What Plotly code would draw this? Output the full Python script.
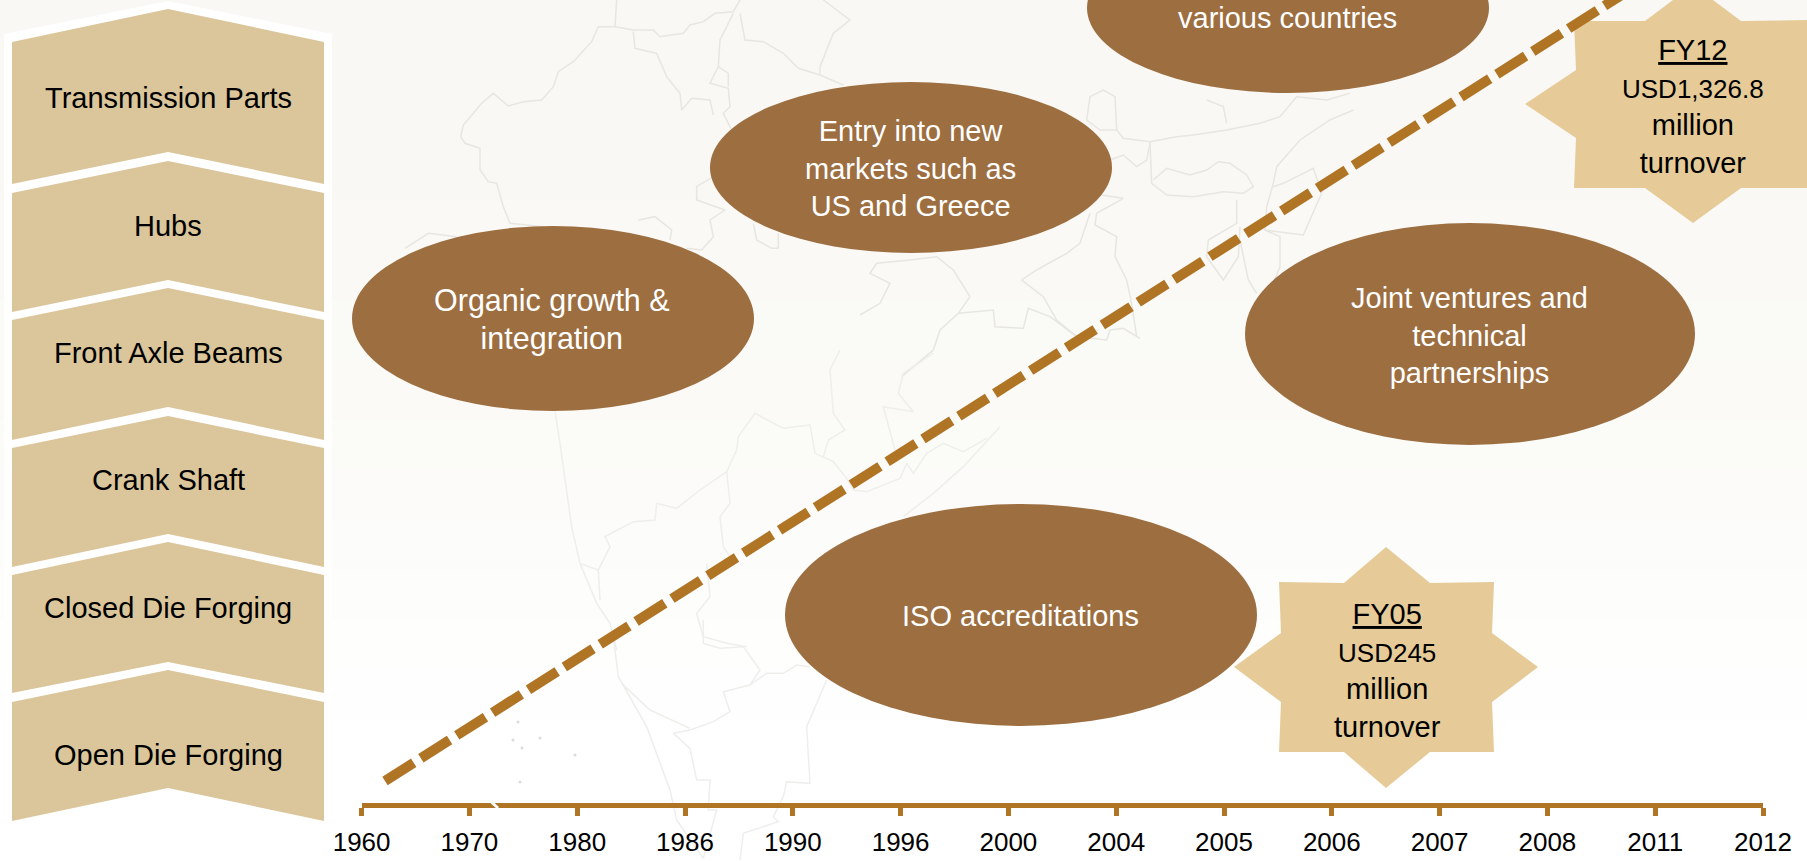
import plotly.graph_objects as go

YEARS = ["1960","1970","1980","1986","1990","1996","2000","2004","2005","2006","2007","2008","2011","2012"]
PRODUCTS = ["Transmission Parts","Hubs","Front Axle Beams","Crank Shaft","Closed Die Forging","Open Die Forging"]
PRODUCT_TEXT_Y = [98,226,353,480,608,755]
# chevron: top-left y, apex y, bottom-left y, notch y
CHEVRONS = [(42,9,184,152),(193,161,312,280),(320,288,440,407),(448,416,567,534),(575,542,693,662),(702,670,821,788)]
CHEV_L, CHEV_M, CHEV_R = 12, 168, 324

ELLIPSES = [
    ("<span style='font-size:30.5px'>Organic growth &</span><br><span style='font-size:30.5px'>integration</span>", 553, 318.5, 201, 92.5),
    ("Entry into new<br>markets such as<br>US and Greece", 911, 167.5, 201, 85.5),
    ("various countries", 1288, 8, 201, 85),
    ("Joint ventures and<br>technical<br>partnerships", 1470, 334, 225, 111),
    ("ISO accreditations", 1021, 615, 236, 111),
]
ELLIPSE_TEXT_Y = [319, 168, 18, 335, 616]

STAR_05_X = [1386,1430,1494,1492,1538,1492,1494,1430,1386,1344,1279,1281,1234,1281,1279,1344,1386]
STAR_05_Y = [547,583,582,633,667,702,752,752,788,752,752,702,667,633,582,583,547]
STAR_12_X = [1693,1741,1812,1810,1861,1810,1812,1741,1693,1645,1574,1576,1525,1576,1574,1645,1693]
STAR_12_Y = [-15,21,20,70,104,138,188,188,223,188,188,138,104,70,21,21,-15]
STAR_TEXT = [("<u>FY05</u><br><span style='font-size:26px'>USD245</span><br>million<br>turnover",1387,670),
             ("<u>FY12</u><br><span style='font-size:26px'>USD1,326.8</span><br>million<br>turnover",1693,106)]

GROWTH_X = [385, 1642]
GROWTH_Y = [781, -18]

# map outlines: (crop x, crop y, points at 3x crop scale)
MAP_UPPER = [
 (400,0,[(650,0),(645,80),(595,80),(575,125),(520,185),(475,215),(460,260),(425,300),(370,305),(325,318),(280,280),(245,310),(190,375),(182,410),(195,430),(240,445),(240,510),(265,545),(290,550),(310,620),(330,670),(430,680)]),
 (400,0,[(645,80),(700,90),(760,90),(780,110),(850,100),(870,75),(910,65),(945,40),(1000,35),(1020,0)]),
 (400,0,[(700,95),(705,145),(770,160),(800,230),(840,280),(845,330),(875,295),(930,300),(940,345)]),
 (400,0,[(1000,40),(960,120),(955,200),(930,250),(985,265),(990,320),(970,340),(995,390)]),
 (400,0,[(955,200),(985,220),(985,260)]),
 (400,0,[(1020,40),(1035,120),(1090,125),(1150,160),(1195,205),(1260,225),(1330,255)]),
 (400,0,[(1270,0),(1350,60),(1300,100),(1260,200),(1260,225)]),
 (400,0,[(940,530),(890,560),(890,600),(975,630),(930,660),(940,710),(905,750),(860,745)]),
 (400,0,[(715,660),(765,650),(815,690),(810,720)]),
 (400,0,[(1060,670),(1070,720),(1115,745),(1135,745),(1135,700)]),
 (400,0,[(15,745),(85,700),(170,710)]),
 (860,80,[(730,30),(690,50),(680,120),(720,150),(770,150),(765,50),(730,30)]),
 (860,80,[(770,150),(790,175),(870,185),(950,170),(1000,165),(1100,150),(1200,130),(1260,110),(1310,50),(1400,60),(1470,40)]),
 (860,80,[(1040,60),(1090,80),(1100,130)]),
 (860,80,[(870,185),(875,310),(920,345),(1000,350),(1090,335),(1150,340),(1180,320),(1160,285),(1110,250),(1075,245),(1040,270),(990,285),(920,265),(880,300)]),
 (860,80,[(680,150),(750,240),(790,225),(830,260),(860,240),(870,190)]),
 (860,80,[(690,340),(790,355),(710,400),(705,435),(770,470),(765,530),(800,600),(815,670),(830,770)]),
 (860,80,[(690,400),(660,490),(620,520),(530,570),(485,600),(550,650),(590,720),(650,770),(740,780),(750,750),(790,745),(840,775)]),
 (860,80,[(330,650),(280,570),(230,530),(150,540),(50,550),(30,580),(90,610),(60,670),(0,705)]),
 (860,80,[(330,650),(295,700),(240,750),(220,810),(125,890)]),
 (860,80,[(295,700),(400,690),(405,740),(490,745),(505,685),(570,710),(650,770)]),
 (860,80,[(1130,360),(1130,430),(1045,480),(1040,530),(1090,600),(1135,530),(1140,440)]),
 (860,80,[(1140,480),(1165,600),(1190,640)]),
 (860,80,[(1480,90),(1410,120),(1320,180),(1250,260),(1240,310),(1220,380),(1215,450),(1330,465),(1385,340),(1360,265),(1270,310),(1240,320)]),
 (860,80,[(1215,450),(1260,470),(1260,560),(1240,610)]),
]
MAP_LOWER = [
 (500,350,[(165,185),(180,280),(215,530),(240,640),(290,760),(330,820),(350,900)]),
 (500,350,[(240,640),(295,660),(330,590),(315,560),(400,515),(465,510),(470,460),(530,475),(600,420),(680,365),(710,300),(715,260),(765,190),(850,235),(930,225),(945,310),(1000,335),(1040,385),(1060,420),(1100,425),(1200,385),(1220,340),(1240,370),(1280,310),(1330,280),(1390,305),(1460,265)]),
 (500,350,[(295,660),(300,750)]),
 (500,350,[(680,365),(690,460),(660,500),(670,590),(690,620)]),
 (500,350,[(620,640),(630,740),(590,790),(610,860),(680,880),(740,890)]),
 (500,350,[(1020,0),(990,60),(1000,190),(1035,240),(985,270),(970,320)]),
 (500,350,[(1300,10),(1210,70),(1195,130),(1240,185),(1150,170),(1185,300)]),
 (500,350,[(1500,230),(1390,350),(1300,430),(1210,500)]),
 (500,620,[(340,50),(355,170),(440,320),(510,510),(530,600),(610,715)]),
 (500,620,[(610,0),(610,70),(660,85),(730,80),(780,150),(750,195),(670,215),(690,275),(640,305),(570,330),(520,340),(570,385),(590,480),(630,480),(625,570),(650,570),(610,715)]),
 (500,620,[(365,190),(450,270),(570,325)]),
 (500,620,[(750,195),(800,160),(850,160),(890,135),(930,140)]),
 (500,620,[(980,180),(920,320),(930,490),(860,485),(850,530),(820,590),(835,605),(730,640),(720,720)]),
]
ISLANDS_X = [518,513,522,540,575,520]
ISLANDS_Y = [722,740,748,738,755,782]

BG_Y = [0,200,300,360,420,470,520,570,620,670,720]
BG_C = ["#f9f8f4","#faf9f5","#fafaf6","#fbfaf7","#fbfbf8","#fcfbf9","#fcfcfa","#fdfdfb","#fefefc","#fefefe","#ffffff"]

FONT = "Liberation Sans"
BROWN, GOLD, TAN, STAR = "#9d6e40", "#b07425", "#dac69a", "#e6cb98"

fig = go.Figure()
shapes = []
for i, y0 in enumerate(BG_Y):
    y1 = BG_Y[i+1] if i+1 < len(BG_Y) else 861
    shapes.append(dict(type="rect", xref="paper", yref="paper", x0=0, x1=1, y0=1-y0/861, y1=1-y1/861,
                       fillcolor=BG_C[i], line_width=0, layer="below"))

for paths, col in ((MAP_UPPER, "#e7e6e1"), (MAP_LOWER, "#eeeeeb")):
    mx, my = [], []
    for ox, oy, pts in paths:
        mx += [ox + p[0]/3 for p in pts] + [None]
        my += [oy + p[1]/3 for p in pts] + [None]
    fig.add_trace(go.Scatter(x=mx, y=my, mode="lines", line=dict(color=col, width=1.5), hoverinfo="skip"))
fig.add_trace(go.Scatter(x=ISLANDS_X, y=ISLANDS_Y, mode="markers", marker=dict(color="#dcdcdc", size=3), hoverinfo="skip"))

# white panel behind chevrons
fig.add_trace(go.Scatter(x=[4,CHEV_M,332,332,4,4], y=[34,1,34,840,840,34], mode="lines", fill="toself",
                         fillcolor="#ffffff", line_width=0, hoverinfo="skip"))
cx, cy = [], []
for tl, ap, bl, no in CHEVRONS:
    cx += [CHEV_L, CHEV_M, CHEV_R, CHEV_R, CHEV_M, CHEV_L, CHEV_L, None]
    cy += [tl, ap, tl, bl, no, bl, tl, None]
fig.add_trace(go.Scatter(x=cx, y=cy, mode="lines", fill="toself", fillcolor=TAN, line_width=0, hoverinfo="skip"))

for sx, sy in ((STAR_05_X, STAR_05_Y), (STAR_12_X, STAR_12_Y)):
    fig.add_trace(go.Scatter(x=sx, y=sy, mode="lines", fill="toself", fillcolor=STAR, line_width=0, hoverinfo="skip"))

fig.add_trace(go.Scatter(x=GROWTH_X, y=GROWTH_Y, mode="lines",
                         line=dict(color=GOLD, width=10, dash="34px,8.5px"), hoverinfo="skip"))

# timeline axis
fig.add_trace(go.Scatter(x=list(range(len(YEARS))), y=[0]*len(YEARS), xaxis="x2", yaxis="y2",
                         mode="markers", marker=dict(opacity=0), hoverinfo="skip"))

anns = []
for e, ty in zip(ELLIPSES, ELLIPSE_TEXT_Y):
    t, x, y, rx, ry = e
    shapes.append(dict(type="circle", xref="x", yref="y", x0=x-rx, x1=x+rx, y0=y-ry, y1=y+ry,
                       fillcolor=BROWN, line_width=0, layer="above"))
    anns.append(dict(text=t, x=x-1, y=ty, xref="x", yref="y", showarrow=False,
                     font=dict(family=FONT, size=29, color="#ffffff"), align="center"))
for p, ty in zip(PRODUCTS, PRODUCT_TEXT_Y):
    anns.append(dict(text=p, x=CHEV_M, y=ty, xref="x", yref="y", showarrow=False,
                     font=dict(family=FONT, size=29, color="#000000")))
for t, x, y in STAR_TEXT:
    anns.append(dict(text=t, x=x, y=y, xref="x", yref="y", showarrow=False, align="center",
                     font=dict(family=FONT, size=29, color="#000000")))

# white slash across the timeline
shapes.append(dict(type="line", xref="x", yref="y", x0=488, x1=498, y0=799, y1=808,
                   line=dict(color="#ffffff", width=3), layer="above"))

fig.update_layout(
    width=1807, height=861, margin=dict(l=0, r=0, t=0, b=0, autoexpand=False), showlegend=False,
    paper_bgcolor="#ffffff", plot_bgcolor="rgba(0,0,0,0)",
    shapes=shapes, annotations=anns,
    xaxis=dict(range=[0,1807], visible=False, domain=[0,1]),
    yaxis=dict(range=[861,0], visible=False, domain=[0,1]),
    xaxis2=dict(domain=[361.6/1807,1763/1807], range=[0,13], anchor="y2",
                tickmode="array", tickvals=list(range(len(YEARS))), ticktext=YEARS,
                showline=True, linecolor=GOLD, linewidth=5, ticks="outside", tickcolor=GOLD,
                tickwidth=5, ticklen=8, showgrid=False, zeroline=False, ticklabelstandoff=4,
                tickfont=dict(family=FONT, size=26, color="#000000")),
    yaxis2=dict(domain=[58/861,1], range=[0,1], visible=False, anchor="x2"),
)
fig.write_html("out.html", config={"displayModeBar": False},
               post_script="document.body.style.margin='0';document.body.style.overflow='hidden';")
